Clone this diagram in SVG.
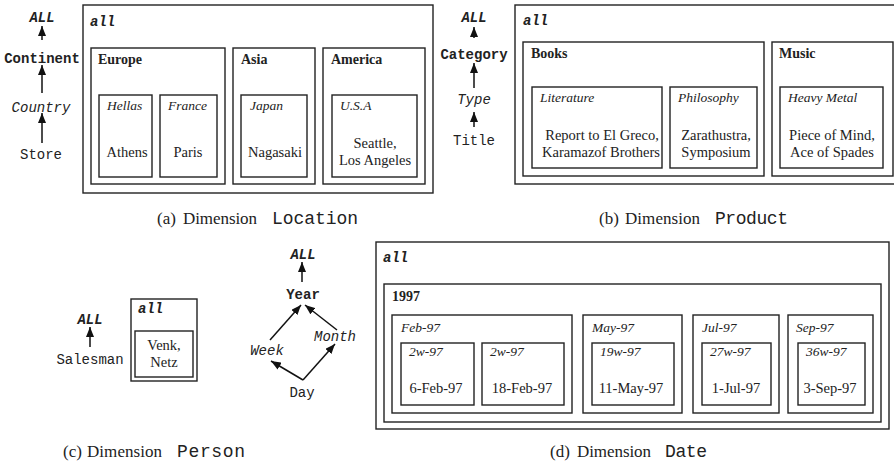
<svg xmlns="http://www.w3.org/2000/svg" width="894" height="466" viewBox="0 0 894 466">
<defs>
<marker id="ah" viewBox="0 0 10 8" refX="10" refY="4" markerWidth="10" markerHeight="8" markerUnits="userSpaceOnUse" orient="auto">
<path d="M0,0 L10,4 L0,8 z" fill="#111"/>
</marker>
<style>
rect{fill:none;stroke:#222;stroke-width:1.4}
.c{stroke:#111;stroke-width:1.5;fill:none;marker-end:url(#ah)}
text{fill:#222}
.m{font-family:"Liberation Mono",monospace;font-size:14px}
.mb{font-family:"Liberation Mono",monospace;font-size:14px;font-weight:bold}
.mi{font-family:"Liberation Mono",monospace;font-size:14px;font-style:italic}
.mbi{font-family:"Liberation Mono",monospace;font-size:14px;font-weight:bold;font-style:italic}
.s{font-family:"Liberation Serif",serif;font-size:14.5px}
.sb{font-family:"Liberation Serif",serif;font-size:14px;font-weight:bold}
.si{font-family:"Liberation Serif",serif;font-size:13.5px;font-style:italic}
.cs{font-family:"Liberation Serif",serif;font-size:17px}
.cm{font-family:"Liberation Mono",monospace;font-size:18px}
.mid{text-anchor:middle}
</style>
</defs>

<!-- (a) Location hierarchy -->
<g id="loc-levels">
<text class="mbi mid" x="42" y="22">ALL</text>
<text class="mb mid" x="42" y="63">Continent</text>
<text class="mi mid" x="41" y="112">Country</text>
<text class="m mid" x="41" y="159">Store</text>
</g>
<g id="loc-all">
<rect x="83" y="5" width="350" height="188"/>
<text class="mbi" x="90" y="26">all</text>
</g>
<g id="loc-europe">
<rect x="91" y="48" width="134" height="136"/>
<text class="sb" x="98" y="64">Europe</text>
</g>
<g id="loc-hellas">
<rect x="99" y="95" width="53" height="82"/>
<text class="si" x="107" y="110">Hellas</text>
<text class="s mid" x="127" y="157">Athens</text>
</g>
<g id="loc-france">
<rect x="160" y="95" width="57" height="82"/>
<text class="si" x="168" y="110">France</text>
<text class="s mid" x="188" y="157">Paris</text>
</g>
<g id="loc-asia">
<rect x="233" y="48" width="82" height="136"/>
<text class="sb" x="241" y="64">Asia</text>
</g>
<g id="loc-japan">
<rect x="241" y="95" width="66" height="82"/>
<text class="si" x="250" y="110">Japan</text>
<text class="s mid" x="275" y="157">Nagasaki</text>
</g>
<g id="loc-america">
<rect x="323" y="48" width="102" height="136"/>
<text class="sb" x="331" y="64">America</text>
</g>
<g id="loc-usa">
<rect x="332" y="95" width="85" height="82"/>
<text class="si" x="340" y="110">U.S.A</text>
<text class="s mid" x="375" y="148">Seattle,</text>
<text class="s mid" x="375" y="165">Los Angeles</text>
</g>
<g id="cap-a">
<text class="cs" x="157" y="224">(a)</text>
<text class="cs" x="183" y="224" textLength="74" lengthAdjust="spacing">Dimension</text>
<text class="cm" x="272" y="224" textLength="86" lengthAdjust="spacing">Location</text>
</g>

<!-- (b) Product hierarchy -->
<g id="prod-levels">
<text class="mbi mid" x="474" y="22">ALL</text>
<text class="mb mid" x="474" y="59">Category</text>
<text class="mi mid" x="474" y="104">Type</text>
<text class="m mid" x="474" y="145">Title</text>
</g>
<g id="prod-all">
<rect x="515" y="5" width="390" height="179"/>
<text class="mbi" x="523" y="25">all</text>
</g>
<g id="prod-books">
<rect x="523" y="42" width="241" height="134"/>
<text class="sb" x="531" y="58">Books</text>
</g>
<g id="prod-literature">
<rect x="532" y="87" width="130" height="81"/>
<text class="si" x="540" y="102">Literature</text>
<text class="s mid" x="602" y="140">Report to El Greco,</text>
<text class="s mid" x="601" y="157">Karamazof Brothers</text>
</g>
<g id="prod-philosophy">
<rect x="670" y="87" width="87" height="81"/>
<text class="si" x="678" y="102">Philosophy</text>
<text class="s mid" x="716" y="140">Zarathustra,</text>
<text class="s mid" x="716" y="157">Symposium</text>
</g>
<g id="prod-music">
<rect x="772" y="42" width="121" height="134"/>
<text class="sb" x="779" y="58">Music</text>
</g>
<g id="prod-heavymetal">
<rect x="780" y="87" width="103" height="81"/>
<text class="si" x="788" y="102">Heavy Metal</text>
<text class="s mid" x="832" y="140">Piece of Mind,</text>
<text class="s mid" x="832" y="157">Ace of Spades</text>
</g>
<g id="cap-b">
<text class="cs" x="599" y="224">(b)</text>
<text class="cs" x="625" y="224" textLength="75" lengthAdjust="spacing">Dimension</text>
<text class="cm" x="715" y="224" textLength="73" lengthAdjust="spacing">Product</text>
</g>

<!-- (c) Person -->
<g id="pers-levels">
<text class="mbi mid" x="90" y="324">ALL</text>
<text class="m mid" x="90" y="364">Salesman</text>
</g>
<g id="pers-all">
<rect x="131" y="299" width="66" height="82"/>
<text class="mbi" x="138" y="313">all</text>
</g>
<g id="pers-venk">
<rect x="135" y="331" width="58" height="46"/>
<text class="s mid" x="164" y="350">Venk,</text>
<text class="s mid" x="164" y="367">Netz</text>
</g>
<g id="cap-c">
<text class="cs" x="63" y="457">(c)</text>
<text class="cs" x="87" y="457" textLength="75" lengthAdjust="spacing">Dimension</text>
<text class="cm" x="177" y="457" textLength="68" lengthAdjust="spacing">Person</text>
</g>

<!-- (d) Date hierarchy -->
<g id="date-levels">
<text class="mbi mid" x="303" y="259">ALL</text>
<text class="mb mid" x="303" y="299">Year</text>
<text class="mi mid" x="267" y="355">Week</text>
<text class="mi mid" x="335" y="341">Month</text>
<text class="m mid" x="302" y="397">Day</text>
</g>
<g id="date-all">
<rect x="376" y="242" width="513" height="187"/>
<text class="mbi" x="383" y="262">all</text>
</g>
<g id="date-1997">
<rect x="384" y="284" width="497" height="138"/>
<text class="sb" x="392" y="301">1997</text>
</g>
<g id="date-feb">
<rect x="392" y="315" width="180" height="98"/>
<text class="si" x="401" y="332">Feb-97</text>
</g>
<g id="date-2w-a">
<rect x="401" y="343" width="73" height="62"/>
<text class="si" x="409" y="356">2w-97</text>
<text class="s mid" x="436" y="393">6-Feb-97</text>
</g>
<g id="date-2w-b">
<rect x="482" y="343" width="82" height="62"/>
<text class="si" x="490" y="356">2w-97</text>
<text class="s mid" x="522" y="393">18-Feb-97</text>
</g>
<g id="date-may">
<rect x="583" y="315" width="99" height="98"/>
<text class="si" x="592" y="332">May-97</text>
</g>
<g id="date-19w">
<rect x="592" y="343" width="82" height="62"/>
<text class="si" x="600" y="356">19w-97</text>
<text class="s mid" x="631" y="393">11-May-97</text>
</g>
<g id="date-jul">
<rect x="693" y="315" width="86" height="98"/>
<text class="si" x="702" y="332">Jul-97</text>
</g>
<g id="date-27w">
<rect x="702" y="343" width="69" height="62"/>
<text class="si" x="710" y="356">27w-97</text>
<text class="s mid" x="736" y="393">1-Jul-97</text>
</g>
<g id="date-sep">
<rect x="788" y="315" width="85" height="98"/>
<text class="si" x="796" y="332">Sep-97</text>
</g>
<g id="date-36w">
<rect x="798" y="343" width="67" height="62"/>
<text class="si" x="806" y="356">36w-97</text>
<text class="s mid" x="830" y="393">3-Sep-97</text>
</g>
<g id="cap-d">
<text class="cs" x="550" y="457">(d)</text>
<text class="cs" x="577" y="457" textLength="74" lengthAdjust="spacing">Dimension</text>
<text class="cm" x="665" y="457" textLength="42" lengthAdjust="spacing">Date</text>
</g>

<!-- connectors -->
<g id="connectors">
<line class="c" x1="42" y1="40" x2="42" y2="26"/>
<line class="c" x1="42" y1="93" x2="42" y2="65"/>
<line class="c" x1="42" y1="143" x2="42" y2="113"/>
<line class="c" x1="474" y1="38" x2="474" y2="27"/>
<line class="c" x1="474" y1="88" x2="474" y2="63"/>
<line class="c" x1="474" y1="127" x2="474" y2="112"/>
<line class="c" x1="90" y1="347" x2="90" y2="327"/>
<line class="c" x1="302" y1="282" x2="302" y2="262"/>
<line class="c" x1="270" y1="340" x2="301" y2="305"/>
<line class="c" x1="337" y1="330" x2="305" y2="305"/>
<line class="c" x1="303" y1="380" x2="271" y2="361"/>
<line class="c" x1="303" y1="380" x2="335" y2="344"/>
</g>
</svg>
